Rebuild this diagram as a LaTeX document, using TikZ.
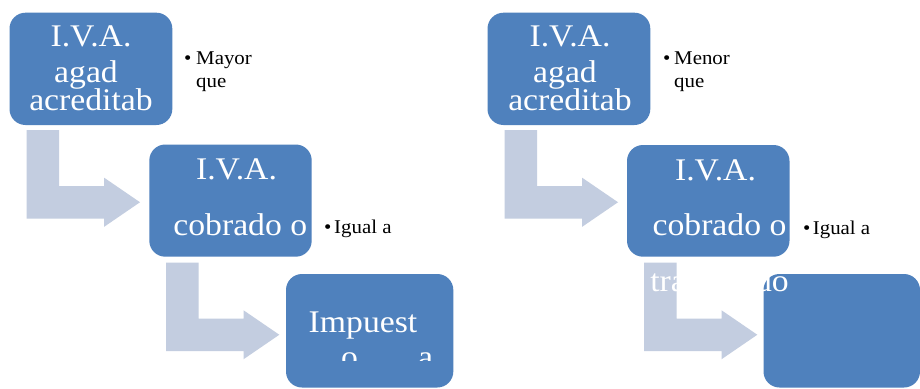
\documentclass[tikz,border=0pt]{standalone}
\usepackage{fontspec}
\setmainfont{Liberation Serif}[FakeStretch=1.07]
\definecolor{boxblue}{RGB}{79,129,189}
\definecolor{arrowgray}{RGB}{195,205,224}
\begin{document}
\begin{tikzpicture}[x=1pt,y=-1pt,
  boxst/.style={rectangle, fill=boxblue, rounded corners=16pt, inner sep=0pt, draw=none},
  big/.style={text=white, font=\fontsize{31.5}{36}\selectfont, inner sep=0pt, anchor=base},
  small/.style={text=black, font=\fontsize{19.5}{23}\selectfont, inner sep=0pt, anchor=base west},
  bentarrow/.pic={
    \fill[arrowgray] (0,0) -- (32.5,0) -- (32.5,56) -- (77.5,56) -- (77.5,47.75)
      -- (113.3,72.25) -- (77.5,96.75) -- (77.5,88.5) -- (0,88.5) -- cycle;
  }]
\clip (0,0) rectangle (920,388);
\fill[white] (0,0) rectangle (920,388);

% ---------- left group ----------
\pic at (26.7,130) {bentarrow};
\pic at (166,262.5) {bentarrow};
\node[boxst, minimum width=162.8pt, minimum height=112.3pt] (lb1) at (90.9,68.85) {};
\node[boxst, minimum width=162.4pt, minimum height=112.2pt] (lb2) at (230.5,200.6) {};
\node[boxst, minimum width=167.3pt, minimum height=113.5pt] (lb3) at (369.65,330.75) {};

\node[big] (lt1) at (91,46) {I.V.A.};
\node[big] (lt2) at (86,82.3) {agad};
\node[big] (lt3) at (91,110) {acreditab};
\node[big] (lt4) at (236.5,179.3) {I.V.A.};
\node[big] (lt5) at (240.3,235) {cobrado o};
\node[big] (lt6) at (363,332.7) {Impuest};
\begin{scope}
  \clip (286,340) rectangle (453,360);
  \node[big, anchor=base west] (lt7) at (341,367) {o};
  \node[big, anchor=base west] (lt8) at (418,367) {a};
\end{scope}

\node[small] (lbul1) at (184,64.3) {•};
\node[small] (ls1) at (196,64.3) {Mayor};
\node[small] (ls2) at (196,87.5) {que};
\node[small] (lbul2) at (324,233.3) {•};
\node[small] (ls3) at (334,233.3) {Igual a};

% ---------- right group ----------
\pic at (504.7,130) {bentarrow};
\pic at (644,262.5) {bentarrow};
\node[boxst, minimum width=162.8pt, minimum height=112.3pt] (rb1) at (568.9,68.85) {};
\node[boxst, minimum width=162.5pt, minimum height=111.7pt] (rb2) at (708.25,200.85) {};
\node[boxst, minimum width=156.5pt, minimum height=113.5pt] (rb3) at (841.75,330.75) {};

\node[big] (rt1) at (570,46) {I.V.A.};
\node[big] (rt2) at (565,82.3) {agad};
\node[big] (rt3) at (570,110) {acreditab};
\node[big] (rt4) at (715.5,180) {I.V.A.};
\node[big] (rt5) at (719.5,235) {cobrado o};
\node[big] (rt6) at (719.5,291.7) {trasladado};

\node[small] (rbul1) at (663,64.3) {•};
\node[small] (rs1) at (674,64.3) {Menor};
\node[small] (rs2) at (674,87.5) {que};
\node[small] (rbul2) at (803,234.3) {•};
\node[small] (rs3) at (812.7,234.3) {Igual a};
\end{tikzpicture}
\end{document}
